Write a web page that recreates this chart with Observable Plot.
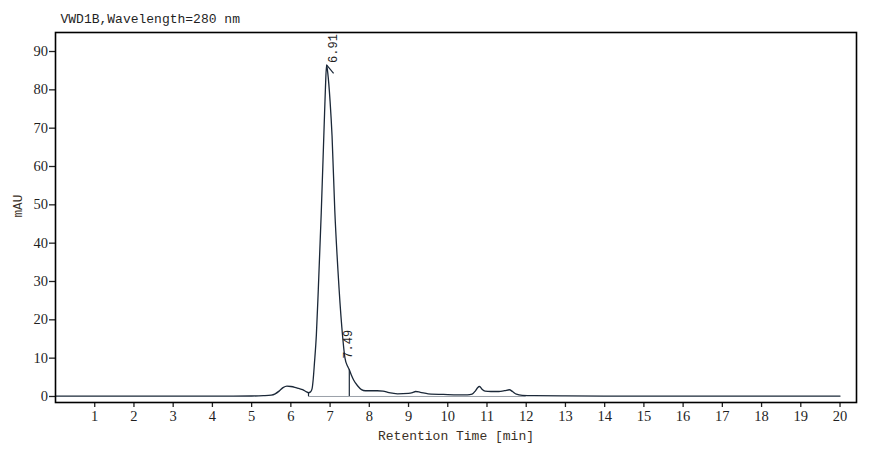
<!DOCTYPE html>
<html>
<head>
<meta charset="utf-8">
<script src="https://cdn.jsdelivr.net/npm/d3@7"></script>
<script src="https://cdn.jsdelivr.net/npm/@observablehq/plot@0.6"></script>
<style>
  html, body { margin: 0; padding: 0; background: #fff; }
</style>
</head>
<body>
<div id="chart"></div>
<script>
const titleText = "VWD1B,Wavelength=280 nm";
const xLabel = "Retention Time [min]";
const yLabel = "mAU";
const xTicks = [1,2,3,4,5,6,7,8,9,10,11,12,13,14,15,16,17,18,19,20];
const yTicks = [0,10,20,30,40,50,60,70,80,90];

const times = [0, 1, 2, 3, 4, 5.0, 5.3, 5.5, 5.6, 5.7, 5.8, 5.9, 6.0, 6.1, 6.2, 6.3, 6.4, 6.45, 6.5, 6.54, 6.57, 6.6, 6.65, 6.7, 6.775, 6.85, 6.88, 6.91, 6.94, 7.0, 7.05, 7.12, 7.2, 7.3, 7.38, 7.45, 7.49, 7.55, 7.6, 7.7, 7.8, 7.9, 8.0, 8.2, 8.35, 8.5, 8.72, 9.0, 9.1, 9.18, 9.3, 9.5, 10.0, 10.5, 10.62, 10.7, 10.76, 10.81, 10.88, 10.95, 11.1, 11.3, 11.45, 11.57, 11.65, 11.75, 11.9, 12.2, 13, 14, 16, 18, 20];
const mAU = [0.1, 0.1, 0.1, 0.1, 0.1, 0.12, 0.2, 0.35, 0.7, 1.4, 2.3, 2.7, 2.6, 2.4, 2.1, 1.8, 1.2, 1.0, 1.2, 2.0, 4.5, 8.5, 16, 28, 48, 71, 80, 86.5, 84.5, 77, 68, 48.5, 33, 18, 10, 7.8, 7, 5.4, 4.3, 2.8, 1.8, 1.5, 1.5, 1.5, 1.4, 1.0, 0.7, 0.8, 1.0, 1.3, 1.1, 0.7, 0.5, 0.4, 0.6, 1.4, 2.3, 2.6, 1.8, 1.4, 1.3, 1.3, 1.5, 1.75, 1.3, 0.6, 0.3, 0.2, 0.15, 0.1, 0.1, 0.1, 0.1];

const peakTimes = [6.91, 7.49];
const peakLabels = ["6.91", "7.49"];
const dropTimes = [6.45, 7.49];

const signal = times.map((t, i) => ({t, v: mAU[i]}));
const valueAt = t => mAU[times.indexOf(t)];
const drops = dropTimes.map(t => ({t, v: valueAt(t)}));
const peaks = peakTimes.map((t, i) => ({t, v: valueAt(t), label: peakLabels[i]}));

const lineColor = "#1b2838";
const textColor = "#1f1f1f";

const chart = Plot.plot({
  width: 878,
  height: 450,
  marginLeft: 55,
  marginRight: 22,
  marginTop: 32,
  marginBottom: 48,
  style: {fontFamily: "'Liberation Serif', serif", fontSize: "14.5px", color: textColor, background: "#fff"},
  x: {domain: [0, 20.42]},
  y: {domain: [-1.57, 94.96]},
  marks: [
    Plot.axisX({ticks: xTicks, tickSize: 5, tickPadding: 3, label: null, tickFormat: d => String(d), stroke: "#222", strokeWidth: 1.3}),
    Plot.axisY({ticks: yTicks, tickSize: 6, tickPadding: 1.5, label: null, tickFormat: d => String(d), stroke: "#222", strokeWidth: 1.3}),
    Plot.ruleY([0], {x1: dropTimes[0], x2: 12.0, stroke: "#9aa0a8", strokeWidth: 1}),
    Plot.line(signal, {x: "t", y: "v", stroke: lineColor, strokeWidth: 1.3, curve: "monotone-x"}),
    Plot.ruleX(drops, {x: "t", y1: 0, y2: "v", stroke: lineColor, strokeWidth: 1.2}),
    Plot.link(peaks.slice(0, 1), {x1: "t", y1: "v", x2: d => d.t + 0.18, y2: d => d.v - 2.2, stroke: lineColor, strokeWidth: 1.2}),
    Plot.text(peaks.slice(0, 1), {x: "t", y: "v", text: "label", rotate: -90, textAnchor: "start", lineAnchor: "middle", dx: 7, dy: -2, fontFamily: "'Liberation Mono', monospace", fontSize: 12, fill: textColor}),
    Plot.text(peaks.slice(1), {x: "t", y: "v", text: "label", rotate: -90, textAnchor: "start", lineAnchor: "middle", dx: -1, dy: -11, fontFamily: "'Liberation Mono', monospace", fontSize: 12, fill: textColor}),
    Plot.frame({stroke: "#000", strokeWidth: 1.6}),
    Plot.text([titleText], {frameAnchor: "top-left", textAnchor: "start", lineAnchor: "middle", dx: 5, dy: -14, fontFamily: "'Liberation Mono', monospace", fontSize: 13, fill: textColor}),
    Plot.text([xLabel], {frameAnchor: "bottom", lineAnchor: "middle", dy: 33, fontFamily: "'Liberation Mono', monospace", fontSize: 13, fill: "#3a3026"}),
    Plot.text([yLabel], {frameAnchor: "left", rotate: -90, lineAnchor: "middle", dx: -38, fontFamily: "'Liberation Mono', monospace", fontSize: 12.7, fill: "#3a3026"})
  ]
});
document.getElementById("chart").appendChild(chart);
</script>
</body>
</html>
